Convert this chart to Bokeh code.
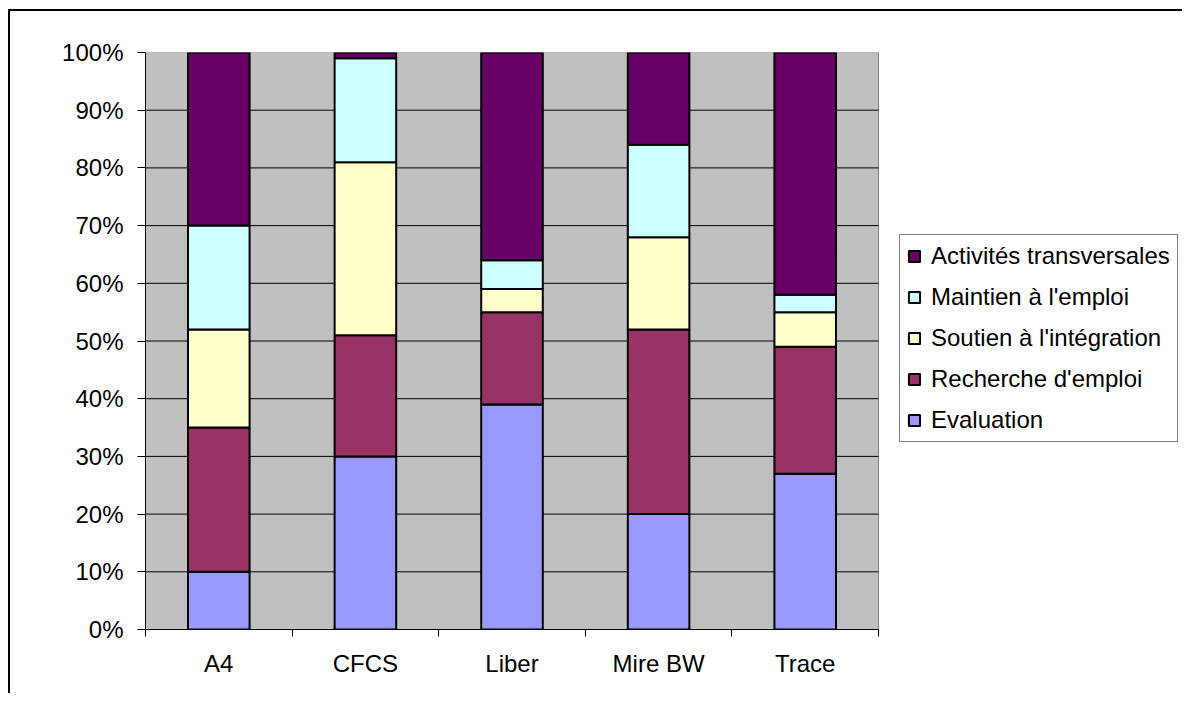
from bokeh.plotting import figure
from bokeh.models import (ColumnDataSource, FixedTicker, PrintfTickFormatter, Legend,
                          LegendItem, Range1d)
from bokeh.embed import file_html
from bokeh.resources import INLINE

categories = ["A4", "CFCS", "Liber", "Mire BW", "Trace"]
evaluation = [10, 30, 39, 20, 27]
recherche = [25, 21, 16, 32, 22]
soutien = [17, 30, 4, 16, 6]
maintien = [18, 18, 5, 16, 3]
activites = [30, 1, 36, 16, 42]

series_names = ["Evaluation", "Recherche d'emploi", "Soutien à l'intégration",
                "Maintien à l'emploi", "Activités transversales"]
series_keys = ["evaluation", "recherche", "soutien", "maintien", "activites"]
colors = ["#9999FF", "#993366", "#FFFFCC", "#CCFFFF", "#660066"]
y_ticks = list(range(0, 101, 10))

FONT = "Liberation Sans"

# layout (pixels)
W, H = 1174, 684
LEFT, TOP, BOTTOM = 135, 41, 66
PLOT_W = 733
frame_w = W - LEFT
n = len(categories)
x_end = n * frame_w / PLOT_W

xs = [i + 0.5 for i in range(n)]
source = ColumnDataSource(dict(x=xs, evaluation=evaluation, recherche=recherche,
                               soutien=soutien, maintien=maintien, activites=activites))

p = figure(width=W, height=H, output_backend="svg", toolbar_location=None,
           x_range=Range1d(0, x_end), y_range=Range1d(0, 100),
           min_border_left=LEFT, min_border_right=0, min_border_top=TOP,
           min_border_bottom=BOTTOM)
p.margin = (9, 0, 0, 8)
p.styles = {"border-left": "2px solid black", "border-top": "2px solid black"}

p.background_fill_color = "white"
p.border_fill_color = "white"
p.outline_line_color = None
p.grid.visible = False

# plot area background
p.quad(left=[0], right=[n], bottom=[y_ticks[0]], top=[y_ticks[-1]],
       fill_color="#C0C0C0", line_color="#808080", line_width=1)
# horizontal gridlines
inner = y_ticks[1:-1]
p.segment(x0=[0] * len(inner), x1=[n] * len(inner), y0=inner, y1=inner,
          line_color="black", line_width=1)

renderers = p.vbar_stack(series_keys, x="x", width=0.42, color=colors, source=source,
                         line_color="black", line_width=2)

# y axis
p.yaxis.ticker = FixedTicker(ticks=y_ticks)
p.yaxis.formatter = PrintfTickFormatter(format="%d%%")
p.yaxis.major_label_text_font = FONT
p.yaxis.major_label_text_font_size = "24px"
p.yaxis.major_label_text_color = "black"
p.yaxis.major_tick_out = 8
p.yaxis.major_tick_in = 0
p.yaxis.minor_tick_out = 0
p.yaxis.minor_tick_in = 0
p.yaxis.major_label_standoff = 14
p.yaxis.axis_line_color = "black"
p.yaxis.major_tick_line_color = "black"

# x axis: labels at centres, tick marks at boundaries
p.xaxis.bounds = (0, n)
p.xaxis.ticker = FixedTicker(ticks=xs, minor_ticks=list(range(n + 1)))
p.xaxis.major_label_overrides = {x: c for x, c in zip(xs, categories)}
p.xaxis.major_label_text_font = FONT
p.xaxis.major_label_text_font_size = "24px"
p.xaxis.major_label_text_color = "black"
p.xaxis.major_tick_out = 0
p.xaxis.major_tick_in = 0
p.xaxis.minor_tick_out = 7
p.xaxis.minor_tick_in = 0
p.xaxis.minor_tick_line_color = "black"
p.xaxis.major_label_standoff = 13
p.xaxis.axis_line_color = "black"

items = [LegendItem(label=nm, renderers=[r]) for nm, r in zip(series_names, renderers)]
legend = Legend(items=list(reversed(items)), location=(754, 187))
legend.label_text_font = FONT
legend.label_text_font_size = "24px"
legend.label_text_color = "black"
legend.label_height = 24
legend.glyph_height = 14
legend.glyph_width = 14
legend.label_standoff = 10
legend.spacing = 13
legend.padding = 7
legend.margin = 0
legend.border_line_color = "black"
legend.border_line_width = 1
legend.background_fill_color = "white"
legend.background_fill_alpha = 1
p.add_layout(legend, "center")

open("out.html", "w").write(file_html(p, INLINE))
